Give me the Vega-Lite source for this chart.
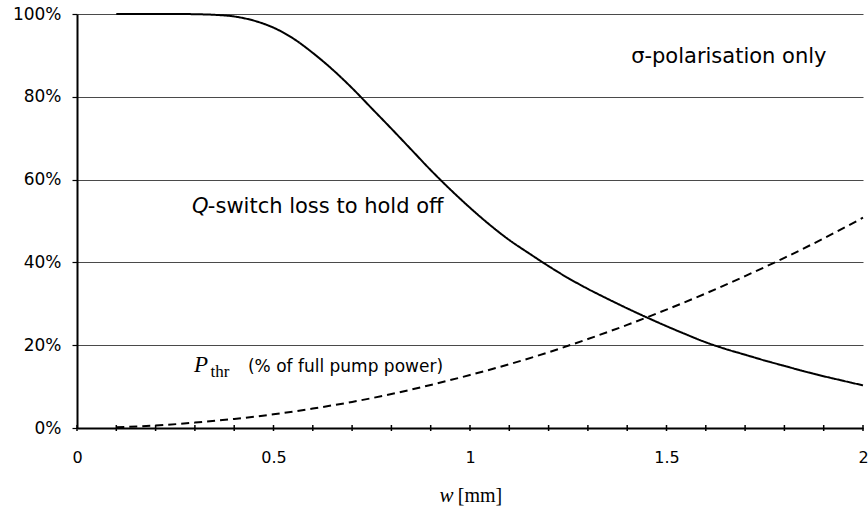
{
  "$schema": "https://vega.github.io/schema/vega-lite/v6.json",
  "width": 786,
  "height": 414,
  "autosize": "none",
  "padding": {"left": 77, "top": 14, "right": 5, "bottom": 80},
  "background": "white",
  "config": {
    "view": {"stroke": null},
    "font": "DejaVu Sans",
    "axis": {"labelOverlap": false, "labelBound": false}
  },
  "layer": [
    {
      "data": {"values": [
        {"w": 0.1, "v": 100, "s": "loss"}, {"w": 0.15, "v": 100, "s": "loss"}, {"w": 0.2, "v": 100, "s": "loss"}, {"w": 0.25, "v": 100, "s": "loss"},
        {"w": 0.3, "v": 99.95, "s": "loss"}, {"w": 0.35, "v": 99.8, "s": "loss"}, {"w": 0.4, "v": 99.4, "s": "loss"}, {"w": 0.45, "v": 98.4, "s": "loss"},
        {"w": 0.5, "v": 96.7, "s": "loss"}, {"w": 0.55, "v": 94.1, "s": "loss"}, {"w": 0.6, "v": 90.6, "s": "loss"}, {"w": 0.65, "v": 86.6, "s": "loss"},
        {"w": 0.7, "v": 82.1, "s": "loss"}, {"w": 0.75, "v": 77.2, "s": "loss"}, {"w": 0.8, "v": 72.3, "s": "loss"}, {"w": 0.85, "v": 67.3, "s": "loss"},
        {"w": 0.9, "v": 62.3, "s": "loss"}, {"w": 0.95, "v": 57.6, "s": "loss"}, {"w": 1.0, "v": 53.2, "s": "loss"}, {"w": 1.05, "v": 49.1, "s": "loss"},
        {"w": 1.1, "v": 45.4, "s": "loss"}, {"w": 1.15, "v": 42.2, "s": "loss"}, {"w": 1.2, "v": 39.1, "s": "loss"}, {"w": 1.25, "v": 36.2, "s": "loss"},
        {"w": 1.3, "v": 33.6, "s": "loss"}, {"w": 1.35, "v": 31.2, "s": "loss"}, {"w": 1.4, "v": 28.9, "s": "loss"}, {"w": 1.45, "v": 26.7, "s": "loss"},
        {"w": 1.5, "v": 24.6, "s": "loss"}, {"w": 1.55, "v": 22.6, "s": "loss"}, {"w": 1.6, "v": 20.7, "s": "loss"}, {"w": 1.65, "v": 19.1, "s": "loss"},
        {"w": 1.7, "v": 17.7, "s": "loss"}, {"w": 1.75, "v": 16.3, "s": "loss"}, {"w": 1.8, "v": 15.0, "s": "loss"}, {"w": 1.85, "v": 13.7, "s": "loss"},
        {"w": 1.9, "v": 12.5, "s": "loss"}, {"w": 1.95, "v": 11.4, "s": "loss"}, {"w": 2.0, "v": 10.3, "s": "loss"},
        {"w": 0.1, "v": 0.2, "s": "pthr"}, {"w": 0.2, "v": 0.6, "s": "pthr"}, {"w": 0.3, "v": 1.3, "s": "pthr"}, {"w": 0.4, "v": 2.2, "s": "pthr"},
        {"w": 0.5, "v": 3.3, "s": "pthr"}, {"w": 0.6, "v": 4.7, "s": "pthr"}, {"w": 0.7, "v": 6.3, "s": "pthr"}, {"w": 0.8, "v": 8.2, "s": "pthr"},
        {"w": 0.9, "v": 10.4, "s": "pthr"}, {"w": 1.0, "v": 12.8, "s": "pthr"}, {"w": 1.1, "v": 15.4, "s": "pthr"}, {"w": 1.2, "v": 18.3, "s": "pthr"},
        {"w": 1.3, "v": 21.5, "s": "pthr"}, {"w": 1.4, "v": 24.9, "s": "pthr"}, {"w": 1.5, "v": 28.6, "s": "pthr"}, {"w": 1.6, "v": 32.5, "s": "pthr"},
        {"w": 1.7, "v": 36.7, "s": "pthr"}, {"w": 1.8, "v": 41.1, "s": "pthr"}, {"w": 1.9, "v": 45.8, "s": "pthr"}, {"w": 2.0, "v": 50.8, "s": "pthr"}
      ]},
      "mark": {"type": "line", "color": "black", "strokeWidth": 2, "interpolate": "monotone"},
      "encoding": {
        "x": {
          "field": "w", "type": "quantitative",
          "scale": {"domain": [0, 2], "nice": false, "zero": false},
          "axis": {
            "title": null,
            "values": [0, 0.5, 1, 1.5, 2],
            "format": "~g",
            "labelFlush": false,
            "labelFont": "DejaVu Sans",
            "labelFontSize": 16,
            "labelColor": "black",
            "labelPadding": 21,
            "grid": false,
            "domainColor": "black",
            "domainWidth": 2,
            "ticks": false,
            "tickSize": 0
          }
        },
        "y": {
          "field": "v", "type": "quantitative",
          "scale": {"domain": [0, 100], "nice": false},
          "axis": {
            "title": null,
            "values": [0, 20, 40, 60, 80, 100],
            "labelExpr": "datum.value + '%'",
            "labelFont": "DejaVu Sans",
            "labelFontSize": 17,
            "labelColor": "black",
            "labelPadding": 11,
            "grid": true,
            "gridColor": "#4a4a4a",
            "gridWidth": 1,
            "domainColor": "black",
            "domainWidth": 2,
            "tickColor": "black",
            "tickWidth": 1.2,
            "tickSize": 5
          }
        },
        "detail": {"field": "s"},
        "strokeDash": {
          "field": "s", "type": "nominal",
          "scale": {"domain": ["loss", "pthr"], "range": [[1, 0], [8, 5]]},
          "legend": null
        }
      }
    },
    {
      "data": {"values": [
        {"w": 0, "v": 0}, {"w": 0.1, "v": 0}, {"w": 0.2, "v": 0}, {"w": 0.3, "v": 0}, {"w": 0.4, "v": 0}, {"w": 0.5, "v": 0}, {"w": 0.6, "v": 0},
        {"w": 0.7, "v": 0}, {"w": 0.8, "v": 0}, {"w": 0.9, "v": 0}, {"w": 1.0, "v": 0}, {"w": 1.1, "v": 0}, {"w": 1.2, "v": 0}, {"w": 1.3, "v": 0},
        {"w": 1.4, "v": 0}, {"w": 1.5, "v": 0}, {"w": 1.6, "v": 0}, {"w": 1.7, "v": 0}, {"w": 1.8, "v": 0}, {"w": 1.9, "v": 0}, {"w": 2.0, "v": 0}
      ]},
      "mark": {"type": "tick", "orient": "vertical", "color": "black", "size": 6, "thickness": 1.5, "opacity": 1},
      "encoding": {"x": {"field": "w", "type": "quantitative"}, "y": {"field": "v", "type": "quantitative"}}
    },
    {
      "data": {"values": [{"t": "Q", "w": 0.335, "v": 51.9}]},
      "mark": {"type": "text", "align": "right", "baseline": "alphabetic", "font": "DejaVu Sans", "fontStyle": "italic", "fontSize": 21, "color": "black"},
      "encoding": {"x": {"field": "w", "type": "quantitative"}, "y": {"field": "v", "type": "quantitative"}, "text": {"field": "t"}}
    },
    {
      "data": {"values": [{"t": "-switch loss to hold off", "w": 0.333, "v": 51.9}, {"t": "σ-polarisation only", "w": 1.41, "v": 88.2}]},
      "mark": {"type": "text", "align": "left", "baseline": "alphabetic", "font": "DejaVu Sans", "fontSize": 21, "color": "black"},
      "encoding": {"x": {"field": "w", "type": "quantitative"}, "y": {"field": "v", "type": "quantitative"}, "text": {"field": "t"}}
    },
    {
      "data": {"values": [{"t": "(% of full pump power)", "w": 0.435, "v": 13.5}]},
      "mark": {"type": "text", "align": "left", "baseline": "alphabetic", "font": "DejaVu Sans", "fontSize": 17, "color": "black"},
      "encoding": {"x": {"field": "w", "type": "quantitative"}, "y": {"field": "v", "type": "quantitative"}, "text": {"field": "t"}}
    },
    {
      "data": {"values": [{"t": "P", "w": 0.298, "v": 13.5}]},
      "mark": {"type": "text", "align": "left", "baseline": "alphabetic", "font": "Liberation Serif", "fontStyle": "italic", "fontSize": 23, "color": "black"},
      "encoding": {"x": {"field": "w", "type": "quantitative"}, "y": {"field": "v", "type": "quantitative"}, "text": {"field": "t"}}
    },
    {
      "data": {"values": [{"t": "w", "w": 0.9225, "v": -17.8}]},
      "mark": {"type": "text", "align": "left", "baseline": "alphabetic", "font": "Liberation Serif", "fontStyle": "italic", "fontSize": 21, "color": "black"},
      "encoding": {"x": {"field": "w", "type": "quantitative"}, "y": {"field": "v", "type": "quantitative"}, "text": {"field": "t"}}
    },
    {
      "data": {"values": [{"t": "thr", "w": 0.34, "v": 12.3}]},
      "mark": {"type": "text", "align": "left", "baseline": "alphabetic", "font": "Liberation Serif", "fontSize": 17, "color": "black"},
      "encoding": {"x": {"field": "w", "type": "quantitative"}, "y": {"field": "v", "type": "quantitative"}, "text": {"field": "t"}}
    },
    {
      "data": {"values": [{"t": "[mm]", "w": 0.969, "v": -17.8}]},
      "mark": {"type": "text", "align": "left", "baseline": "alphabetic", "font": "Liberation Serif", "fontSize": 20, "color": "black"},
      "encoding": {"x": {"field": "w", "type": "quantitative"}, "y": {"field": "v", "type": "quantitative"}, "text": {"field": "t"}}
    }
  ]
}
